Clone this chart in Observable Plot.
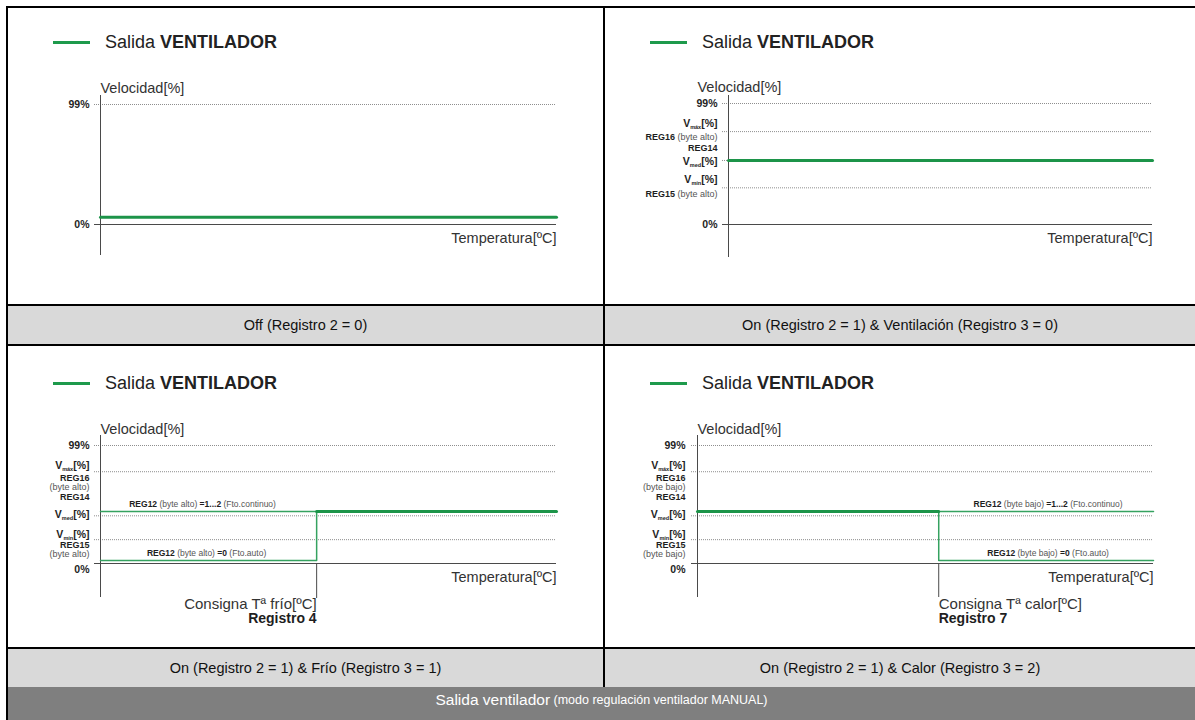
<!DOCTYPE html>
<html>
<head>
<meta charset="utf-8">
<script src="https://cdn.jsdelivr.net/npm/d3@7"></script>
<script src="https://cdn.jsdelivr.net/npm/@observablehq/plot@0.6"></script>
<style>
  html,body{margin:0;padding:0;background:#fff;}
  body{font-family:"Liberation Sans", Arial, Helvetica, sans-serif;}
  #page{position:relative;width:1195px;height:720px;overflow:hidden;background:#fff;}
  .blk{position:absolute;background:#000;}
  .fill{position:absolute;}
  .cell{position:absolute;display:flex;align-items:center;justify-content:center;color:#111;font-size:14.5px;white-space:nowrap;}
  .legend{position:absolute;display:flex;align-items:center;height:22px;font-size:18px;color:#222;white-space:nowrap;}
  .legend .sw{display:inline-block;width:37px;height:3px;background:#1e9a4c;margin-right:15px;}
  .chart{position:absolute;}
  .chart svg{overflow:visible;}
</style>
</head>
<body>
<div id="page"></div>
<script>
// ------------------------------------------------------------------ data
const legendText = ["Salida ", "VENTILADOR"];
const yAxisTitle = "Velocidad[%]";
const xAxisTitle = "Temperatura[ºC]";
const captions = [
  "Off (Registro 2 = 0)",
  "On (Registro 2 = 1) & Ventilación (Registro 3 = 0)",
  "On (Registro 2 = 1) & Frío (Registro 3 = 1)",
  "On (Registro 2 = 1) & Calor (Registro 3 = 2)"
];
const footerMain = "Salida ventilador";
const footerNote = " (modo regulación ventilador MANUAL)";

// Panel 1 – Off
const p1Levels = [99];
const p1Fan = [{t: 0, v: 6}, {t: 100, v: 6}];
const p1Labels = [{y: 99, text: "*99%*"}, {y: 0, text: "*0%*"}];

// Panel 2 – On & Ventilación
const p2Levels = [99, 76, 52.4, 30];
const p2Fan = [{t: 0, v: 52.4}, {t: 100, v: 52.4}];
const p2MainLabels = [
  {y: 99, text: "*99%*"},
  {y: 76, text: "*V_{máx}[%]*"},
  {y: 52.4, text: "*V_{med}[%]*"},
  {y: 30, text: "*V_{mín}[%]*"},
  {y: 0, text: "*0%*"}
];
const p2RegLabels = [
  {y: 76, text: "*REG16* (byte alto)"},
  {y: 52.4, text: "*REG14*"},
  {y: 30, text: "*REG15* (byte alto)"}
];

// Panel 3 – On & Frío
const p3Levels = [99, 77, 40, 20];
const p3Step = 47.4;          // Consigna Tª frío (Registro 4)
const p3Hi = 43.6, p3Lo = 2.5;
const p3Continuo = [{t: 0, v: 43.6}, {t: 100, v: 43.6}];
const p3Auto = [{t: 0, v: 2.5}, {t: 47.4, v: 2.5}, {t: 47.4, v: 43.6}, {t: 100, v: 43.6}];
const p3MainLabels = [
  {y: 99, text: "*99%*"},
  {y: 77, text: "*V_{máx}[%]*"},
  {y: 40, text: "*V_{med}[%]*"},
  {y: 20, text: "*V_{mín}[%]*"},
  {y: 0, text: "*0%*"}
];
const p3RegLabels = [
  {y: 77, text: "*REG16*"}, {y: 77, text: "(byte alto)"},
  {y: 40, text: "*REG14*"},
  {y: 20, text: "*REG15*"}, {y: 20, text: "(byte alto)"}
];
const p3Notes = ["*REG12* (byte alto) *=1...2* (Fto.continuo)", "*REG12* (byte alto) *=0* (Fto.auto)"];
const p3Setpoint = ["Consigna Tª frío[ºC]", "*Registro 4*"];

// Panel 4 – On & Calor
const p4Levels = [99, 77, 40, 20];
const p4Step = 52.9;          // Consigna Tª calor (Registro 7)
const p4Hi = 43.6, p4Lo = 2.5;
const p4Continuo = [{t: 0, v: 43.6}, {t: 100, v: 43.6}];
const p4Auto = [{t: 0, v: 43.6}, {t: 52.9, v: 43.6}, {t: 52.9, v: 2.5}, {t: 100, v: 2.5}];
const p4MainLabels = [
  {y: 99, text: "*99%*"},
  {y: 77, text: "*V_{máx}[%]*"},
  {y: 40, text: "*V_{med}[%]*"},
  {y: 20, text: "*V_{mín}[%]*"},
  {y: 0, text: "*0%*"}
];
const p4RegLabels = [
  {y: 77, text: "*REG16*"}, {y: 77, text: "(byte bajo)"},
  {y: 40, text: "*REG14*"},
  {y: 20, text: "*REG15*"}, {y: 20, text: "(byte bajo)"}
];
const p4Notes = ["*REG12* (byte bajo) *=1...2* (Fto.continuo)", "*REG12* (byte bajo) *=0* (Fto.auto)"];
const p4Setpoint = ["Consigna Tª calor[ºC]", "*Registro 7*"];

// ------------------------------------------------------------------ styles
const GREEN = "#1c9449", GREEN_THIN = "#35a260", GRID = "#8e8e8e", AXIS = "#4a4a4a";
const FONT = "Liberation Sans, Arial, Helvetica, sans-serif";
const p1Dy = [0, 0];
const p2MainDy = [0, -8, 1, -8, 0], p2RegDy = [5, -12, 6];
const p34MainDy = [0, -6, -1, -5, 6], p34RegDy = [6, 15, -19, 5, 14];

// ------------------------------------------------------------------ helpers
function esc(s){ return s.replace(/&/g,"&amp;").replace(/</g,"&lt;").replace(/>/g,"&gt;"); }
// *bold*  and  _{subscript}
function markup(s){
  let out = "";
  let shifted = false;
  s.split(/(\*[^*]+\*)/).filter(x => x.length).forEach(seg => {
    const bold = /^\*[^*]+\*$/.test(seg);
    const inner = bold ? seg.slice(1, -1) : seg;
    const attrs = bold ? ' font-weight="bold" fill="#1e1e1e"' : '';
    inner.split(/(_\{[^}]*\})/).filter(x => x.length).forEach(p => {
      if (p.startsWith("_{")) {
        out += `<tspan${attrs} font-size="5.5" dy="2">${esc(p.slice(2, -1))}</tspan>`;
        shifted = true;
      } else {
        out += `<tspan${attrs}${shifted ? ' dy="-2"' : ''}>${esc(p)}</tspan>`;
        shifted = false;
      }
    });
  });
  return out;
}
function richify(svg){
  svg.querySelectorAll("text").forEach(t => {
    const targets = t.querySelector("tspan") ? Array.from(t.querySelectorAll(":scope > tspan")) : [t];
    targets.forEach(el => {
      const s = el.textContent;
      if (/[*_]/.test(s)) el.innerHTML = markup(s);
    });
  });
}
function baseMarks({levels, axisInsetTop, axisInsetBottom, titleDx, labelDx, main, mainDy, reg, regDy}){
  const marks = [
    Plot.ruleY(levels, {stroke: GRID, strokeDasharray: "1 1", insetLeft: -6}),
    Plot.ruleY([0], {stroke: AXIS, insetLeft: -6}),
    Plot.ruleX([0], {stroke: AXIS, insetTop: axisInsetTop, insetBottom: axisInsetBottom}),
    Plot.text([yAxisTitle], {text: d => d, frameAnchor: "top-left", textAnchor: "start", dx: titleDx, dy: -22, fontSize: 14.5, fill: "#333"}),
    Plot.text([xAxisTitle], {text: d => d, frameAnchor: "bottom-right", textAnchor: "end", dy: 18, fontSize: 14.5, fill: "#333"})
  ];
  main.forEach((d, i) => marks.push(Plot.text([d], {y: "y", text: "text", frameAnchor: "left", textAnchor: "end", dx: labelDx, dy: mainDy[i], fontSize: 10.5, fontWeight: "bold", fill: "#222"})));
  (reg || []).forEach((d, i) => marks.push(Plot.text([d], {y: "y", text: "text", frameAnchor: "left", textAnchor: "end", dx: labelDx, dy: regDy[i], fontSize: 9, fill: "#555"})));
  return marks;
}
function makePlot(opts, marks){
  const svg = Plot.plot({
    ...opts,
    x: {domain: [0, 100], axis: null},
    y: {domain: [0, 99], axis: null},
    style: {background: "transparent", fontFamily: FONT, overflow: "visible"},
    marks
  });
  richify(svg);
  return svg;
}
const page = document.getElementById("page");
function place(el, left, top){ el.style.left = left + "px"; el.style.top = top + "px"; page.appendChild(el); return el; }
function box(cls, left, top, w, h, bg){
  const d = document.createElement("div"); d.className = cls;
  d.style.width = w + "px"; d.style.height = h + "px"; if (bg) d.style.background = bg;
  return place(d, left, top);
}
function chart(svg, left, top){ const d = document.createElement("div"); d.className = "chart"; d.appendChild(svg); return place(d, left, top); }
function legend(left, cy){
  const d = document.createElement("div"); d.className = "legend";
  d.innerHTML = `<span class="sw"></span><span>${esc(legendText[0])}<b>${esc(legendText[1])}</b></span>`;
  return place(d, left, cy - 11);
}

// ------------------------------------------------------------------ table frame
box("fill", 8, 306, 595, 38, "#d9d9d9");
box("fill", 605, 306, 590, 38, "#d9d9d9");
box("fill", 8, 649, 595, 38, "#d9d9d9");
box("fill", 605, 649, 590, 38, "#d9d9d9");
box("fill", 6, 687, 1189, 33, "#7f7f7f");
box("blk", 6, 6, 1189, 2);
box("blk", 6, 6, 2, 714);
box("blk", 603, 6, 2, 681);
box("blk", 6, 304, 1189, 2);
box("blk", 6, 344, 1189, 2);
box("blk", 6, 647, 1189, 2);

const c1 = box("cell", 8, 306, 595, 38); c1.textContent = captions[0];
const c2 = box("cell", 605, 306, 590, 38); c2.textContent = captions[1];
const c3 = box("cell", 8, 649, 595, 38); c3.textContent = captions[2];
const c4 = box("cell", 605, 649, 590, 38); c4.textContent = captions[3];
const ft = box("cell", 8, 686, 1187, 28);
ft.style.color = "#fff";
ft.innerHTML = `<span style="font-size:15.5px">${esc(footerMain)}</span><span style="font-size:12.5px;white-space:pre">${esc(footerNote)}</span>`;

legend(53, 42); legend(650, 42); legend(53, 383); legend(650, 383);

// ------------------------------------------------------------------ panel 1
chart(makePlot({width: 560, height: 220, marginLeft: 92, marginRight: 12, marginTop: 44, marginBottom: 56}, [
  ...baseMarks({levels: p1Levels, axisInsetTop: -9, axisInsetBottom: -31, titleDx: 0, labelDx: -11, main: p1Labels, mainDy: p1Dy}),
  Plot.line(p1Fan, {x: "t", y: "v", stroke: GREEN, strokeWidth: 3})
]), 8, 60);

// ------------------------------------------------------------------ panel 2
chart(makePlot({width: 560, height: 220, marginLeft: 123, marginRight: 13, marginTop: 43, marginBottom: 56}, [
  ...baseMarks({levels: p2Levels, axisInsetTop: -8, axisInsetBottom: -33, titleDx: -31, labelDx: -11, main: p2MainLabels, mainDy: p2MainDy, reg: p2RegLabels, regDy: p2RegDy}),
  Plot.line(p2Fan, {x: "t", y: "v", stroke: GREEN, strokeWidth: 3})
]), 605, 60);

// ------------------------------------------------------------------ panel 3
chart(makePlot({width: 560, height: 240, marginLeft: 92, marginRight: 12, marginTop: 45, marginBottom: 77}, [
  ...baseMarks({levels: p3Levels, axisInsetTop: -10, axisInsetBottom: -34, titleDx: 0, labelDx: -11, main: p3MainLabels, mainDy: p34MainDy, reg: p3RegLabels, regDy: p34RegDy}),
  Plot.ruleX([p3Step], {y1: 0, y2: 0, insetBottom: -35, stroke: AXIS}),
  Plot.line(p3Continuo, {x: "t", y: "v", stroke: GREEN_THIN, strokeWidth: 1.5}),
  Plot.line(p3Auto, {x: "t", y: "v", stroke: GREEN_THIN, strokeWidth: 1.5}),
  Plot.line(p3Auto.filter(d => d.t >= p3Step && d.v === p3Hi), {x: "t", y: "v", stroke: GREEN, strokeWidth: 3}),
  Plot.text([{t: p3Step / 2, v: p3Hi}], {x: "t", y: "v", text: () => p3Notes[0], dx: -6, dy: -7, fontSize: 8.5, fill: "#555"}),
  Plot.text([{t: p3Step / 2, v: p3Lo}], {x: "t", y: "v", text: () => p3Notes[1], dx: -2, dy: -7, fontSize: 8.5, fill: "#555"}),
  Plot.text([p3Step], {x: d => d, text: () => p3Setpoint[0], frameAnchor: "bottom", textAnchor: "end", dy: 45, fontSize: 15, fill: "#333"}),
  Plot.text([p3Step], {x: d => d, text: () => p3Setpoint[1], frameAnchor: "bottom", textAnchor: "end", dy: 59, fontSize: 14, fill: "#222"})
]), 8, 400);

// ------------------------------------------------------------------ panel 4
chart(makePlot({width: 560, height: 240, marginLeft: 92, marginRight: 12, marginTop: 45, marginBottom: 77}, [
  ...baseMarks({levels: p4Levels, axisInsetTop: -10, axisInsetBottom: -34, titleDx: 0, labelDx: -12, main: p4MainLabels, mainDy: p34MainDy, reg: p4RegLabels, regDy: p34RegDy}),
  Plot.ruleX([p4Step], {y1: 0, y2: 0, insetBottom: -34, stroke: AXIS}),
  Plot.line(p4Continuo, {x: "t", y: "v", stroke: GREEN_THIN, strokeWidth: 1.5}),
  Plot.line(p4Auto, {x: "t", y: "v", stroke: GREEN_THIN, strokeWidth: 1.5}),
  Plot.line(p4Auto.filter(d => d.t <= p4Step && d.v === p4Hi), {x: "t", y: "v", stroke: GREEN, strokeWidth: 3}),
  Plot.text([{t: (p4Step + 100) / 2, v: p4Hi}], {x: "t", y: "v", text: () => p4Notes[0], dx: 2, dy: -7, fontSize: 8.5, fill: "#555"}),
  Plot.text([{t: (p4Step + 100) / 2, v: p4Lo}], {x: "t", y: "v", text: () => p4Notes[1], dx: 2, dy: -7, fontSize: 8.5, fill: "#555"}),
  Plot.text([p4Step], {x: d => d, text: () => p4Setpoint[0], frameAnchor: "bottom", textAnchor: "start", dy: 45, fontSize: 15, fill: "#333"}),
  Plot.text([p4Step], {x: d => d, text: () => p4Setpoint[1], frameAnchor: "bottom", textAnchor: "start", dy: 59, fontSize: 14, fill: "#222"})
]), 605, 400);
</script>
</body>
</html>
